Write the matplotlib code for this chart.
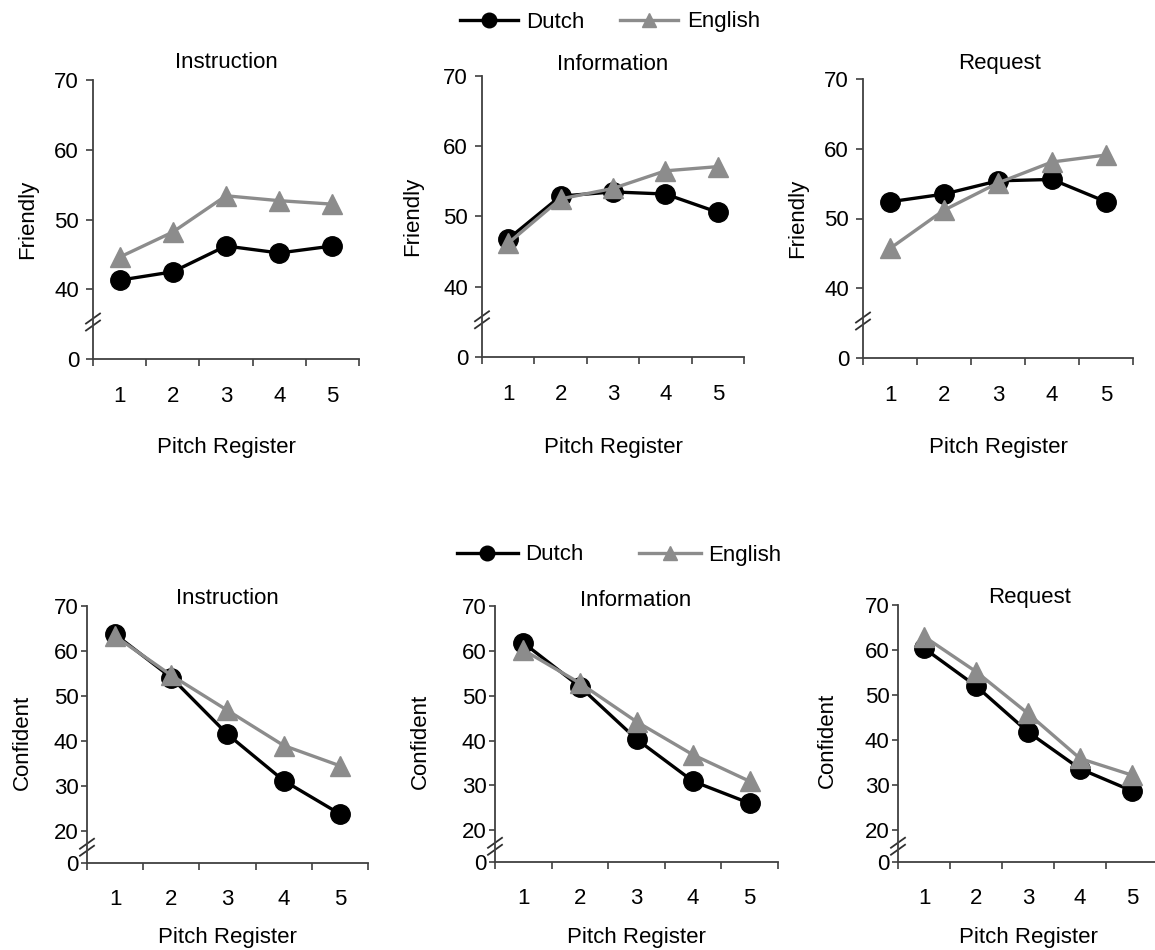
import matplotlib.pyplot as plt

plt.rcParams['font.family'] = ['Liberation Sans', 'DejaVu Sans']
plt.rcParams['font.size'] = 16

registers = [1, 2, 3, 4, 5]
contexts = ['Instruction', 'Information', 'Request']
languages = ['Dutch', 'English']

# mean ratings per context (rows) over the five pitch register steps
friendly_dutch = [
    [41.3, 42.5, 46.2, 45.2, 46.2],
    [46.8, 52.9, 53.5, 53.2, 50.6],
    [52.4, 53.5, 55.4, 55.6, 52.4],
]
friendly_english = [
    [44.6, 48.2, 53.4, 52.7, 52.2],
    [46.2, 52.5, 54.0, 56.5, 57.1],
    [45.7, 51.2, 55.1, 58.1, 59.1],
]
confident_dutch = [
    [63.7, 54.1, 41.5, 31.2, 23.8],
    [61.8, 52.0, 40.3, 30.9, 26.0],
    [60.4, 52.0, 41.8, 33.6, 28.7],
]
confident_english = [
    [63.3, 54.6, 46.8, 39.0, 34.5],
    [60.2, 52.8, 44.2, 36.8, 30.9],
    [63.0, 55.2, 45.9, 35.9, 32.2],
]
friendly_ticks = [40, 50, 60, 70]
confident_ticks = [20, 30, 40, 50, 60, 70]

W, H = 1155, 950
fig = plt.figure(figsize=(W / 100, H / 100), dpi=100)


def px_axes(l, t, r, b):
    return fig.add_axes([l / W, 1 - b / H, (r - l) / W, (b - t) / H])


def px_text(x, y, s, **kw):
    fig.text(x / W, 1 - y / H, s, ha='center', va='center', **kw)


def draw_panel(ax, dutch, english, floor, ticks, brk, xpad, ylen, ypad):
    ax.plot(registers, dutch, color='black', lw=2.4, marker='o', ms=14,
            label=languages[0], clip_on=False, zorder=3)
    ax.plot(registers, english, color='#8c8c8c', lw=2.4, marker='^', ms=14,
            label=languages[1], clip_on=False, zorder=4)
    ax.set_xlim(0.5, 5.5)
    ax.set_ylim(floor, 70)
    ax.set_xticks(registers)
    ax.set_xticks([r + 0.5 for r in [0] + registers], minor=True)
    ax.set_yticks([floor] + ticks, labels=['0'] + [str(t) for t in ticks])
    ax.tick_params(axis='x', which='major', length=0, pad=xpad)
    ax.tick_params(axis='x', which='minor', length=5, width=1.2, color='#404040')
    ax.tick_params(axis='y', length=ylen, width=1.2, color='#404040', pad=ypad)
    for s in ['top', 'right']:
        ax.spines[s].set_visible(False)
    for s in ['left', 'bottom']:
        ax.spines[s].set_color('#404040')
        ax.spines[s].set_linewidth(1.3)
    # axis break marks on the y axis
    bb = ax.get_position()
    aw, ah = bb.width * W, bb.height * H
    yb = (brk - floor) / (70 - floor)
    for off in (-3.5, 3.5):
        ax.plot([-7 / aw, 7 / aw], [yb + (off - 5) / ah, yb + (off + 5) / ah],
                transform=ax.transAxes, color='#303030', lw=1.3, clip_on=False)


top_boxes = [(93, 80, 359, 359), (482, 76, 744, 357), (863, 79, 1133, 358)]
bottom_boxes = [(87, 606, 368, 863), (495, 606, 778, 862), (898, 605, 1158, 862)]

top_titles = [(226, 63), (613, 65), (1000, 63)]
bottom_titles = [(227, 598), (636, 600), (1030, 598)]
top_ylab = [(28, 219), (413, 216), (798, 218)]
bottom_ylab = [(22, 742), (420, 741), (827, 740)]

axes_top = []
for i in range(3):
    ax = px_axes(*top_boxes[i])
    draw_panel(ax, friendly_dutch[i], friendly_english[i], 30, friendly_ticks,
               35.3, 19.5, 5, 5)
    axes_top.append(ax)
    l, t, r, b = top_boxes[i]
    px_text(*top_titles[i], contexts[i])
    px_text(*top_ylab[i], 'Friendly', rotation=90)
    px_text((l + r) / 2, 447, 'Pitch Register')

for i in range(3):
    ax = px_axes(*bottom_boxes[i])
    draw_panel(ax, confident_dutch[i], confident_english[i], 12.9, confident_ticks,
               16.4, 19, 4, 2)
    l, t, r, b = bottom_boxes[i]
    px_text(*bottom_titles[i], contexts[i])
    px_text(*bottom_ylab[i], 'Confident', rotation=90)
    px_text((l + r) / 2, 937, 'Pitch Register')

handles, labels = axes_top[0].get_legend_handles_labels()
fig.legend(handles, labels, loc='center', bbox_to_anchor=(610 / W, 1 - 22 / H),
           ncol=2, frameon=False, handlelength=2.6, handletextpad=0.4,
           columnspacing=1.6, markerscale=0.75)
fig.legend(handles, labels, loc='center', bbox_to_anchor=(619 / W, 1 - 555 / H),
           ncol=2, frameon=False, handlelength=2.75, handletextpad=0.35,
           columnspacing=2.5, markerscale=0.75)

fig.savefig('out.png', dpi=100)
